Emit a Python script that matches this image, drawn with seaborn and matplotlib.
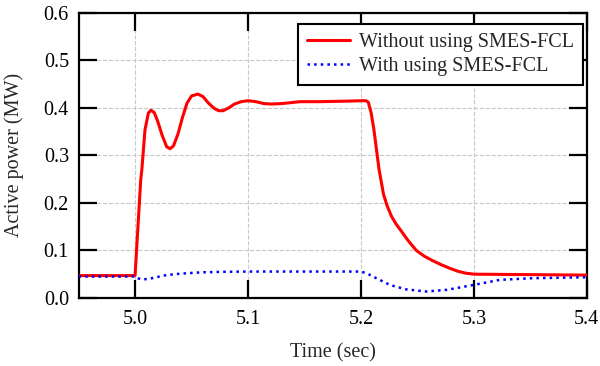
import seaborn as sns
import matplotlib.pyplot as plt
import pandas as pd

# Data
time_red = [4.95, 5.0, 5.005, 5.006, 5.0088, 5.0118, 5.014, 5.017, 5.020, 5.024,
            5.028, 5.031, 5.034, 5.038, 5.042, 5.046, 5.050, 5.0555, 5.060, 5.065,
            5.070, 5.074, 5.078, 5.083, 5.088, 5.094, 5.100, 5.107, 5.114, 5.121,
            5.130, 5.146, 5.164, 5.185, 5.202, 5.2045, 5.2065, 5.209, 5.2115, 5.216,
            5.220, 5.223, 5.227, 5.231, 5.235, 5.242, 5.249, 5.256, 5.263, 5.270,
            5.278, 5.286, 5.293, 5.300, 5.350, 5.400]
power_red = [0.047, 0.047, 0.248, 0.270, 0.354, 0.389, 0.395, 0.390, 0.372, 0.342,
             0.318, 0.314, 0.320, 0.345, 0.380, 0.410, 0.425, 0.429, 0.424, 0.410,
             0.399, 0.394, 0.394, 0.400, 0.408, 0.413, 0.415, 0.413, 0.409, 0.408,
             0.409, 0.413, 0.413, 0.414, 0.415, 0.415, 0.412, 0.390, 0.354, 0.271,
             0.218, 0.195, 0.172, 0.156, 0.143, 0.120, 0.100, 0.088, 0.079, 0.071,
             0.063, 0.056, 0.052, 0.050, 0.049, 0.048]

time_blue = [4.95, 5.0, 5.003, 5.007, 5.012, 5.018, 5.025, 5.035, 5.046, 5.06,
             5.08, 5.1, 5.15, 5.2, 5.205, 5.214, 5.226, 5.24, 5.258, 5.276,
             5.299, 5.323, 5.352, 5.4]
power_blue = [0.045, 0.045, 0.041, 0.039, 0.040, 0.043, 0.047, 0.050, 0.052, 0.054,
              0.055, 0.0555, 0.0555, 0.0555, 0.052, 0.041, 0.027, 0.018, 0.0135, 0.017,
              0.027, 0.038, 0.0415, 0.0435]

label_red = 'Without using SMES-FCL'
label_blue = 'With using SMES-FCL'

x_ticks = [5.0, 5.1, 5.2, 5.3, 5.4]
y_ticks = [0.0, 0.1, 0.2, 0.3, 0.4, 0.5, 0.6]

sns.set_style('white')
plt.rcParams['font.family'] = ['Liberation Serif', 'DejaVu Serif']

fig = plt.figure(figsize=(6, 3.66), dpi=100)
ax = fig.add_axes([0.131, 0.186, 0.847, 0.779])

df_red = pd.DataFrame({'t': time_red, 'p': power_red})
df_blue = pd.DataFrame({'t': time_blue, 'p': power_blue})
sns.lineplot(data=df_red, x='t', y='p', color='#ff0000', linewidth=2.2,
             label=label_red, ax=ax, zorder=3)
sns.lineplot(data=df_blue, x='t', y='p', color='#0000ff', linewidth=1.8,
             linestyle=':', label=label_blue, ax=ax, zorder=3)

ax.set_xlim(4.95, 5.4)
ax.set_ylim(0, 0.6)
ax.set_xticks(x_ticks)
ax.set_yticks(y_ticks)
ax.set_xticklabels([f'{v:.1f}' for v in x_ticks])
ax.set_yticklabels([f'{v:.1f}' for v in y_ticks])

ax.grid(True, linestyle='--', linewidth=0.8, color='#c8c8c8')
for spine in ax.spines.values():
    spine.set_visible(True)
    spine.set_color('black')
    spine.set_linewidth(1.6)
ax.tick_params(axis='both', direction='in', length=13, width=1.6,
               bottom=True, left=True, top=True, right=True,
               labelsize=14.5, colors='black')
ax.tick_params(axis='x', pad=9)
ax.tick_params(axis='y', pad=7)

ax.set_xlabel('Time (sec)', fontsize=14.5, labelpad=10)
ax.set_ylabel('Active power (MW)', fontsize=14.5, labelpad=14)

leg = ax.legend(loc='upper right', bbox_to_anchor=(0.992, 0.962), fontsize=14.5,
                frameon=True, fancybox=False, handlelength=2.1, handletextpad=0.45,
                borderpad=0.45, labelspacing=0.25, borderaxespad=0, framealpha=1)
leg.get_frame().set_edgecolor('black')
leg.get_frame().set_linewidth(1.5)

plt.savefig('out.png', dpi=100)
